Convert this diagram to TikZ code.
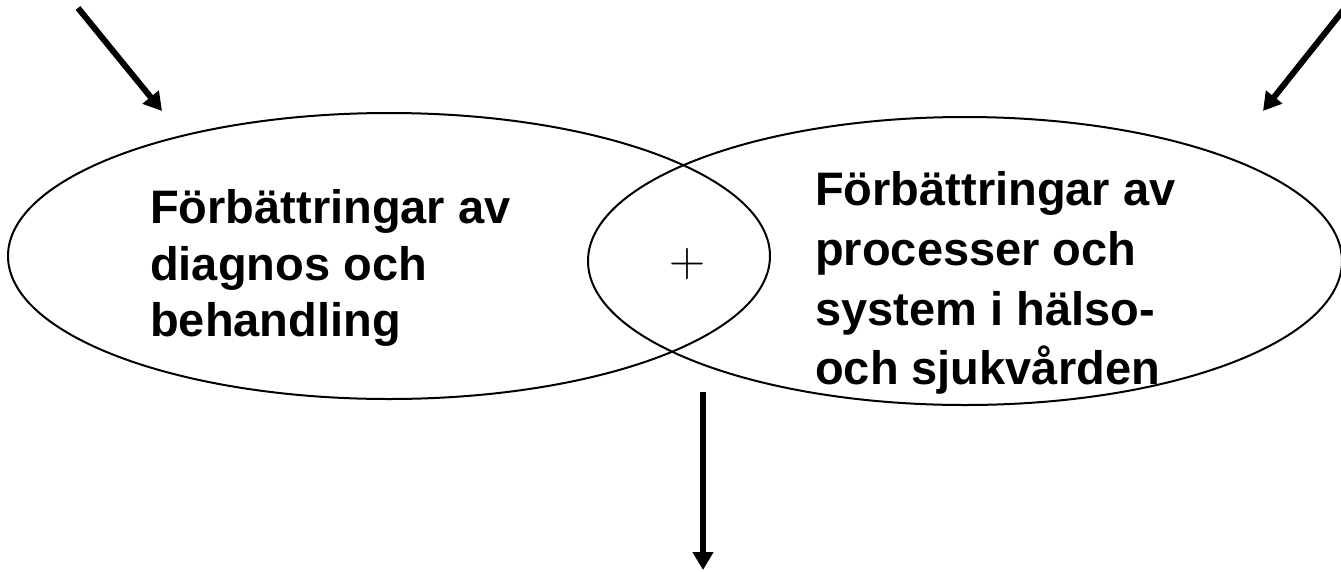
\documentclass[tikz,border=0pt]{standalone}
\usepackage{fontspec}
\setmainfont{Liberation Sans}
\newfontfamily\plusfont{Latin Modern Roman}
\usetikzlibrary{shapes.geometric,arrows.meta}
\tikzset{
  oval/.style={draw, ellipse, line width=2pt, inner sep=0pt},
  lbl/.style={anchor=base west, inner sep=0pt, font=\fontsize{47}{56}\selectfont\bfseries},
  bigarrow/.style={line width=6pt, -{Triangle[length=18pt,width=20pt]}}
}
\begin{document}
\begin{tikzpicture}[x=1pt,y=-1pt]
\useasboundingbox (0,0) rectangle (1341,571);
% ellipses
\node[oval, minimum width=762pt, minimum height=286pt] (left) at (389,256) {};
\node[oval, minimum width=754pt, minimum height=288pt] (right) at (965,261) {};
% plus sign
\node[inner sep=0pt, font=\plusfont\fontsize{50}{60}\selectfont] (plus) at (687,264) {+};
% left text
\node[lbl] (l1) at (150,223) {Förbättringar av};
\node[lbl] (l2) at (150,280) {diagnos och};
\node[lbl] (l3) at (150,336) {behandling};
% right text
\node[lbl] (r1) at (815,205) {Förbättringar av};
\node[lbl] (r2) at (815,265) {processer och};
\node[lbl] (r3) at (815,325) {system i hälso-};
\node[lbl] (r4) at (815,384) {och sjukvården};
% arrows
\coordinate (a1s) at (78,8);
\coordinate (a1e) at (162,111);
\coordinate (a2s) at (1345,8);
\coordinate (a2e) at (1263,111);
\coordinate (a3s) at (703,392);
\coordinate (a3e) at (703,570);
\draw[bigarrow] (a1s) -- (a1e);
\draw[bigarrow] (a2s) -- (a2e);
\draw[bigarrow] (a3s) -- (a3e);
\end{tikzpicture}
\end{document}
